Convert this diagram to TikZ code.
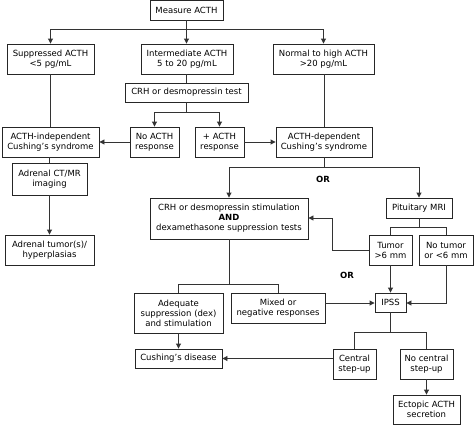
\documentclass[tikz,border=0pt]{standalone}
\usepackage{fontspec}
\setmainfont{DejaVu Sans}
\usetikzlibrary{arrows.meta}
\begin{document}
\begin{tikzpicture}[x=1pt,y=1pt,
  box/.style={draw=black!85, line width=0.9pt, inner sep=0pt, align=center,
    font=\fontsize{8.5}{10}\selectfont, text=black},
  line/.style={draw=black!80, line width=0.9pt},
  arr/.style={line, -{Triangle[length=5pt,width=5pt]}},
  lbl/.style={font=\fontsize{8.5}{10}\selectfont\bfseries, inner sep=0pt}]
\useasboundingbox (0,0) rectangle (474,-426);
\fill[white] (0,0) rectangle (474,-426);
% nodes
\node[box, minimum width=73pt, minimum height=20pt] (measure) at (186.5,-10) {Measure ACTH};
\node[box, minimum width=87pt, minimum height=30pt] (supp) at (50.5,-59) {Suppressed ACTH\\<5 pg/mL};
\node[box, minimum width=92pt, minimum height=30pt] (inter) at (187,-59) {Intermediate ACTH\\5 to 20 pg/mL};
\node[box, minimum width=101pt, minimum height=30pt] (normal) at (323.5,-59) {Normal to high ACTH\\>20 pg/mL};
\node[box, minimum width=123pt, minimum height=19pt] (crhtest) at (186.5,-92.5) {CRH or desmopressin test};
\node[box, minimum width=49pt, minimum height=30pt] (noacth) at (154.5,-142) {No ACTH\\response};
\node[box, minimum width=49pt, minimum height=30pt] (plusacth) at (219.5,-142) {+ ACTH\\response};
\node[box, minimum width=97pt, minimum height=30pt] (indep) at (50.5,-142) {ACTH-independent\\Cushing's syndrome};
\node[box, minimum width=96pt, minimum height=30pt] (dep) at (324,-142) {ACTH-dependent\\Cushing's syndrome};
\node[box, minimum width=75pt, minimum height=32pt] (adrct) at (49.5,-179) {Adrenal CT/MR\\imaging};
\node[box, minimum width=89pt, minimum height=30pt] (adrtum) at (49.5,-250) {Adrenal tumor(s)/\\hyperplasias};
\node[box, minimum width=158pt, minimum height=41pt] (crhstim) at (229,-218.5) {CRH or desmopressin stimulation\\\textbf{AND}\\dexamethasone suppression tests};
\node[box, minimum width=66pt, minimum height=20pt] (pit) at (419,-208) {Pituitary MRI};
\node[box, minimum width=43pt, minimum height=30pt] (tumor) at (390.5,-250) {Tumor\\>6 mm};
\node[box, minimum width=54pt, minimum height=30pt] (notumor) at (446,-250) {No tumor\\or <6 mm};
\node[box, minimum width=31pt, minimum height=19pt] (ipss) at (390.5,-302.5) {IPSS};
\node[box, minimum width=89pt, minimum height=40pt] (adequate) at (178.5,-313) {Adequate\\suppression (dex)\\and stimulation};
\node[box, minimum width=94pt, minimum height=30pt] (mixed) at (278,-308) {Mixed or\\negative responses};
\node[box, minimum width=87pt, minimum height=19pt] (cushing) at (178.5,-358.5) {Cushing's disease};
\node[box, minimum width=43pt, minimum height=30pt] (central) at (354.5,-364) {Central\\step-up};
\node[box, minimum width=53pt, minimum height=30pt] (nocentral) at (426.5,-364) {No central\\step-up};
\node[box, minimum width=67pt, minimum height=29pt] (ectopic) at (426.5,-409.5) {Ectopic ACTH\\secretion};
\node[lbl] (or1) at (323,-179) {OR};
\node[lbl] (or2) at (347,-275) {OR};
% connectors
\coordinate (j1) at (186.5,-29);
\draw[line] (measure.south) -- (j1);
\draw[arr] (j1) -| (supp.north);
\draw[arr] (j1) -| (normal.north);
\draw[arr] (j1) -- (j1 |- inter.north);
\draw[line] (inter.south -| crhtest.north) -- (crhtest.north);
\coordinate (j2) at (186.5,-112);
\draw[line] (crhtest.south) -- (j2);
\draw[arr] (j2) -| (noacth.north);
\draw[arr] (j2) -| (plusacth.north);
\draw[arr] (noacth.west) -- (indep.east);
\draw[arr] (plusacth.east) -- (dep.east -| dep.west);
\draw[line] (supp.south) -- (supp.south |- indep.north);
\draw[line] (normal.south -| dep.north) -- (dep.north);
\draw[line] (indep.south -| adrct.north) -- (adrct.north);
\draw[arr] (adrct.south) -- (adrtum.north);
\coordinate (j3) at (324,-167);
\draw[line] (dep.south) -- (j3);
\draw[arr] (j3) -| (crhstim.north);
\draw[arr] (j3) -| (pit.north);
\coordinate (j4) at (419,-227);
\draw[line] (pit.south) -- (j4);
\draw[line] (j4) -| (tumor.north);
\draw[line] (j4) -| (notumor.north);
\coordinate (j5) at (332,-250);
\draw[arr] (tumor.west) -- (j5) -- (j5 |- 0,-218) -- (crhstim.east |- 0,-218);
\draw[arr] (tumor.south) -- (ipss.north);
\coordinate (j6) at (446,-303);
\draw[arr] (notumor.south) -- (j6) -- (ipss.east |- j6);
\coordinate (j7) at (229,-284);
\draw[line] (crhstim.south) -- (j7);
\draw[line] (j7) -| (adequate.north);
\draw[line] (j7) -| (mixed.north);
\draw[arr] (mixed.east |- 0,-303) -- (ipss.west |- 0,-303);
\draw[arr] (adequate.south) -- (cushing.north);
\coordinate (j8) at (390.5,-332);
\draw[line] (ipss.south) -- (j8);
\draw[line] (j8) -| (central.north);
\draw[line] (j8) -| (nocentral.north);
\draw[arr] (central.west |- cushing.east) -- (cushing.east);
\draw[arr] (nocentral.south) -- (ectopic.north);
\end{tikzpicture}
\end{document}
